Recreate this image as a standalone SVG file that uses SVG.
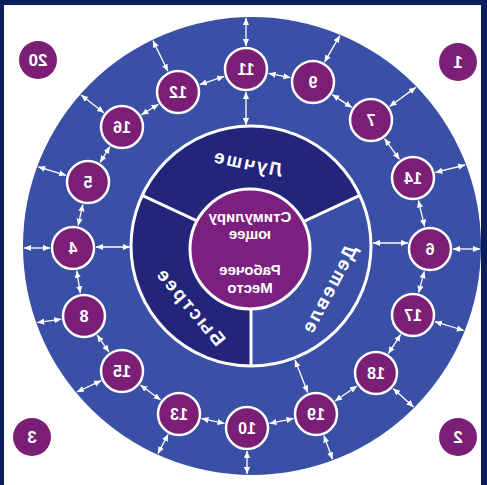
<svg xmlns="http://www.w3.org/2000/svg" width="487" height="485" viewBox="0 0 487 485">
<style>
  .conn line { stroke: #ffffff; stroke-width: 1.3; marker-start: url(#ah); marker-end: url(#ah); }
  .node circle { fill: #7b1f76; stroke: #ffffff; stroke-width: 2.5; }
  .corner circle { fill: #7b1f76; }
  text { font-family: "Liberation Sans", Arial, sans-serif; fill: #ffffff; font-weight: bold; text-anchor: middle; }
  .num { font-size: 16px; }
  .cnum { font-size: 17px; }
  .sec { font-size: 19px; letter-spacing: 2px; }
  .mid { font-size: 15px; }
</style>
<defs>
  <marker id="ah" viewBox="0 0 8 8" refX="8" refY="4" markerWidth="7" markerHeight="7" markerUnits="userSpaceOnUse" orient="auto-start-reverse">
    <path d="M0,0.5 L8,4 L0,7.5 z" fill="#ffffff"/>
  </marker>
</defs>

<!-- frame -->
<rect x="0" y="0" width="487" height="485" fill="#0c1d5c"/>
<rect x="4" y="5" width="477" height="480" fill="#ffffff"/>

<!-- big disc -->
<circle cx="252" cy="246" r="229" fill="#3a4fa6"/>

<!-- core ring -->
<g id="core">
  <circle cx="251" cy="246" r="120" fill="#3a4fa6"/>
  <path d="M251,246 L142.2,195.3 A120,120 0 0 1 359.8,195.3 Z" fill="#23257a"/>
  <path d="M251,246 L251,366 A120,120 0 0 1 142.2,195.3 Z" fill="#23257a"/>
  <g stroke="#ffffff" stroke-width="3">
    <line x1="251" y1="246" x2="142.2" y2="195.3"/>
    <line x1="251" y1="246" x2="359.8" y2="195.3"/>
    <line x1="251" y1="246" x2="251" y2="366"/>
  </g>
  <circle cx="251" cy="246" r="120" fill="none" stroke="#ffffff" stroke-width="3"/>
  <circle cx="250" cy="249" r="60" fill="#7c2080" stroke="#ffffff" stroke-width="3"/>
  <text class="mid" x="250" y="222" transform="matrix(-1 0 0 1 500 0)">Стимулиру</text>
  <text class="mid" x="250" y="239" transform="matrix(-1 0 0 1 500 0)">ющее</text>
  <text class="mid" x="250" y="275" transform="matrix(-1 0 0 1 500 0)">Рабочее</text>
  <text class="mid" x="250" y="293" transform="matrix(-1 0 0 1 500 0)">Место</text>
  <text class="sec" x="0" y="7" transform="translate(247.5 162.5) scale(-1 1) rotate(-12)">Лучше</text>
  <text class="sec" x="0" y="7" transform="translate(328.5 289) scale(-1 1) rotate(62)">Дешевле</text>
  <text class="sec" x="0" y="7" transform="translate(191 306) scale(-1 1) rotate(-50)">Быстрее</text>
</g>

<!-- connectors -->
<g id="connectors" class="conn">
  <line x1="268.6" y1="73.4" x2="290.4" y2="77.6"/>
  <line x1="332.2" y1="94.6" x2="351.8" y2="107.4"/>
  <line x1="384.5" y1="138.6" x2="399.5" y2="159.4"/>
  <line x1="418.4" y1="200.4" x2="424.6" y2="226.6"/>
  <line x1="424.3" y1="271.3" x2="418.7" y2="292.7"/>
  <line x1="400.6" y1="334.4" x2="388.4" y2="353.6"/>
  <line x1="357" y1="386" x2="335" y2="401"/>
  <line x1="293.5" y1="418.6" x2="269.5" y2="423.4"/>
  <line x1="224.5" y1="423.4" x2="201.5" y2="418.6"/>
  <line x1="160.6" y1="400.1" x2="140.4" y2="384.9"/>
  <line x1="108.9" y1="352.1" x2="97.1" y2="334.9"/>
  <line x1="80.3" y1="293.3" x2="76.7" y2="270.7"/>
  <line x1="78.1" y1="225.6" x2="82.9" y2="204.4"/>
  <line x1="100.1" y1="162.4" x2="109.9" y2="146.6"/>
  <line x1="141.5" y1="114.8" x2="158.5" y2="104.2"/>
  <line x1="199.8" y1="84.6" x2="224.2" y2="76.4"/>

  <line x1="246" y1="46" x2="246" y2="18"/>
  <line x1="324.5" y1="62.1" x2="339.8" y2="35.6"/>
  <line x1="389.6" y1="106.5" x2="415.8" y2="87.4"/>
  <line x1="435.3" y1="172.4" x2="465.1" y2="165"/>
  <line x1="453" y1="249" x2="480" y2="249"/>
  <line x1="435" y1="321.7" x2="463.8" y2="330.5"/>
  <line x1="393.1" y1="388.4" x2="413.6" y2="406.9"/>
  <line x1="323.9" y1="435.6" x2="332.5" y2="459.3"/>
  <line x1="247" y1="451" x2="247" y2="474"/>
  <line x1="168.2" y1="434.3" x2="157.9" y2="453.6"/>
  <line x1="101.2" y1="380.7" x2="76.9" y2="392"/>
  <line x1="61.2" y1="319.2" x2="37.3" y2="322.6"/>
  <line x1="50" y1="248" x2="24" y2="248"/>
  <line x1="66" y1="175.3" x2="38.2" y2="166.8"/>
  <line x1="103.9" y1="112.8" x2="81.1" y2="95"/>
  <line x1="167.9" y1="71.3" x2="152.9" y2="40.6"/>

  <line x1="246" y1="92" x2="246" y2="125"/>
  <line x1="408" y1="243" x2="373" y2="243"/>
  <line x1="96" y1="247" x2="130" y2="247"/>
  <line x1="307.7" y1="392.5" x2="295" y2="360"/>
</g>

<!-- ring nodes -->
<g id="n11" class="node"><circle cx="246" cy="69" r="21"/><text class="num" x="246" y="75" transform="matrix(-1 0 0 1 492 0)">11</text></g>
<g id="n9" class="node"><circle cx="313" cy="82" r="21"/><text class="num" x="313" y="88" transform="matrix(-1 0 0 1 626 0)">9</text></g>
<g id="n7" class="node"><circle cx="371" cy="120" r="21"/><text class="num" x="371" y="126" transform="matrix(-1 0 0 1 742 0)">7</text></g>
<g id="n14" class="node"><circle cx="413" cy="178" r="21"/><text class="num" x="413" y="184" transform="matrix(-1 0 0 1 826 0)">14</text></g>
<g id="n6" class="node"><circle cx="430" cy="249" r="21"/><text class="num" x="430" y="255" transform="matrix(-1 0 0 1 860 0)">6</text></g>
<g id="n17" class="node"><circle cx="413" cy="315" r="21"/><text class="num" x="413" y="321" transform="matrix(-1 0 0 1 826 0)">17</text></g>
<g id="n18" class="node"><circle cx="376" cy="373" r="21"/><text class="num" x="376" y="379" transform="matrix(-1 0 0 1 752 0)">18</text></g>
<g id="n19" class="node"><circle cx="316" cy="414" r="21"/><text class="num" x="316" y="420" transform="matrix(-1 0 0 1 632 0)">19</text></g>
<g id="n10" class="node"><circle cx="247" cy="428" r="21"/><text class="num" x="247" y="434" transform="matrix(-1 0 0 1 494 0)">10</text></g>
<g id="n13" class="node"><circle cx="179" cy="414" r="21"/><text class="num" x="179" y="420" transform="matrix(-1 0 0 1 358 0)">13</text></g>
<g id="n15" class="node"><circle cx="122" cy="371" r="21"/><text class="num" x="122" y="377" transform="matrix(-1 0 0 1 244 0)">15</text></g>
<g id="n8" class="node"><circle cx="84" cy="316" r="21"/><text class="num" x="84" y="322" transform="matrix(-1 0 0 1 168 0)">8</text></g>
<g id="n4" class="node"><circle cx="73" cy="248" r="21"/><text class="num" x="73" y="254" transform="matrix(-1 0 0 1 146 0)">4</text></g>
<g id="n5" class="node"><circle cx="88" cy="182" r="21"/><text class="num" x="88" y="188" transform="matrix(-1 0 0 1 176 0)">5</text></g>
<g id="n16" class="node"><circle cx="122" cy="127" r="21"/><text class="num" x="122" y="133" transform="matrix(-1 0 0 1 244 0)">16</text></g>
<g id="n12" class="node"><circle cx="178" cy="92" r="21"/><text class="num" x="178" y="98" transform="matrix(-1 0 0 1 356 0)">12</text></g>

<!-- corner nodes -->
<g id="n1" class="corner"><circle cx="458" cy="62" r="19"/><text class="cnum" x="458" y="68" transform="matrix(-1 0 0 1 916 0)">1</text></g>
<g id="n20" class="corner"><circle cx="38" cy="60" r="19"/><text class="cnum" x="38" y="66" transform="matrix(-1 0 0 1 76 0)">20</text></g>
<g id="n3" class="corner"><circle cx="32" cy="437" r="19"/><text class="cnum" x="32" y="443" transform="matrix(-1 0 0 1 64 0)">3</text></g>
<g id="n2" class="corner"><circle cx="458" cy="437" r="19"/><text class="cnum" x="458" y="443" transform="matrix(-1 0 0 1 916 0)">2</text></g>
</svg>
